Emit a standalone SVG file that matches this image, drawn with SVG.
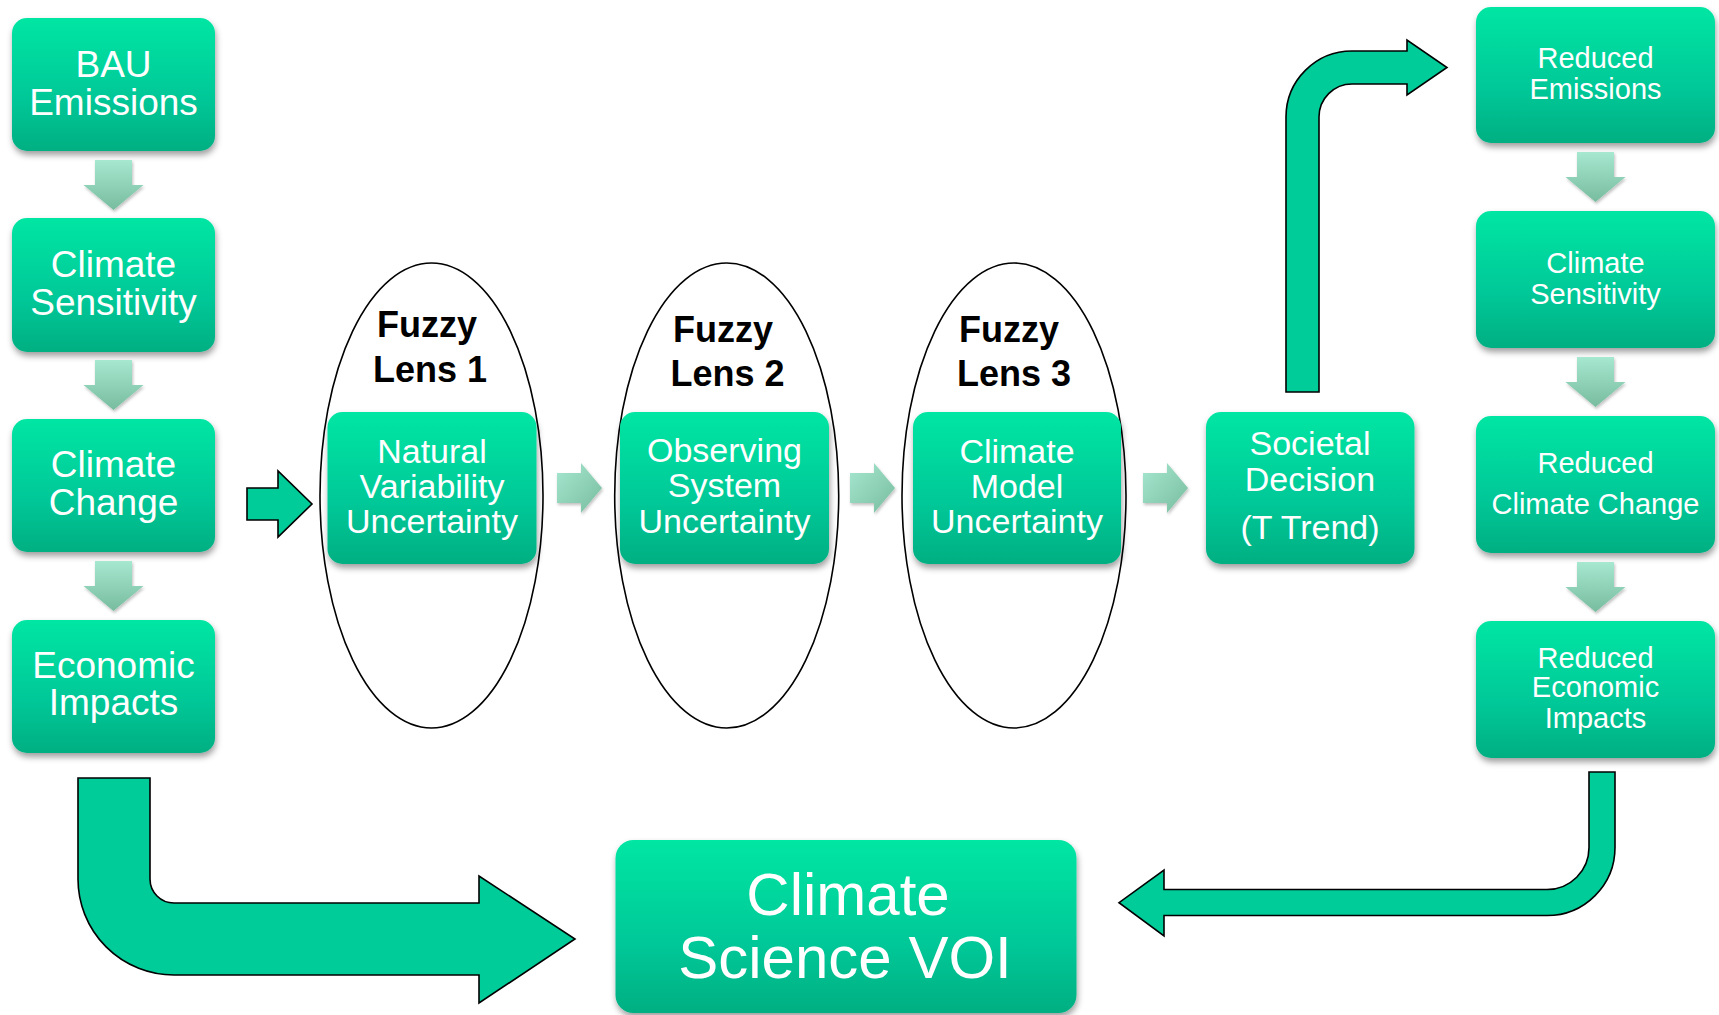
<svg xmlns="http://www.w3.org/2000/svg" xmlns:xlink="http://www.w3.org/1999/xlink" width="1719" height="1015" viewBox="0 0 1719 1015">
  <defs>
    <linearGradient id="boxFill" x1="0" y1="0" x2="0" y2="1">
      <stop offset="0" stop-color="#00E6A3"/>
      <stop offset="0.6" stop-color="#00C898"/>
      <stop offset="1" stop-color="#00AF82"/>
    </linearGradient>
    <linearGradient id="stepFill" x1="0" y1="0" x2="0" y2="1">
      <stop offset="0" stop-color="#A6E8D0"/>
      <stop offset="1" stop-color="#78BC9F"/>
    </linearGradient>
    <linearGradient id="stepFillH" x1="0" y1="0" x2="1" y2="1">
      <stop offset="0" stop-color="#A6E8D0"/>
      <stop offset="1" stop-color="#78BC9F"/>
    </linearGradient>
    <filter id="shadow" x="-10%" y="-10%" width="125%" height="130%">
      <feDropShadow dx="1" dy="4" stdDeviation="3" flood-color="#000" flood-opacity="0.38"/>
    </filter>
    <filter id="softShadow" x="-20%" y="-20%" width="150%" height="150%">
      <feDropShadow dx="1" dy="2" stdDeviation="1.5" flood-color="#000" flood-opacity="0.25"/>
    </filter>
    <!-- small step arrows: vertical (top-centred) and horizontal (left, mid-height) -->
    <path id="stepDown" d="M-18.5,0 H18.5 V25 H30 L0,50 L-30,25 H-18.5 Z"/>
    <path id="stepRight" d="M0,-15 H24 V-25 L45,0 L24,25 V15 H0 Z"/>
    <style>
      .box { fill: url(#boxFill); filter: url(#shadow); }
      .lbl { fill: #fff; font-family: "Liberation Sans", Arial, sans-serif; text-anchor: middle; }
      .l37 { font-size: 37px; }
      .l34 { font-size: 34px; }
      .l29 { font-size: 29px; }
      .l60 { font-size: 60px; }
      .lens { fill: none; stroke: #000; stroke-width: 1.6; }
      .lensTxt { fill: #000; font-family: "Liberation Sans", Arial, sans-serif; font-weight: bold; font-size: 36px; text-anchor: middle; }
      .step { fill: url(#stepFill); filter: url(#softShadow); }
      .stepH { fill: url(#stepFillH); filter: url(#softShadow); }
      .bent { fill: #00CC99; stroke: #000; stroke-width: 1.6; stroke-linejoin: miter; }
    </style>
  </defs>

  <rect width="1719" height="1015" fill="#fff"/>

  <!-- lens outlines -->
  <g id="lens1">
    <ellipse class="lens" cx="431.5" cy="495.5" rx="111.5" ry="232.5"/>
    <text class="lensTxt" x="427" y="337">Fuzzy</text>
    <text class="lensTxt" x="430" y="382">Lens 1</text>
  </g>
  <g id="lens2">
    <ellipse class="lens" cx="726.7" cy="495.5" rx="112" ry="232.5"/>
    <text class="lensTxt" x="723" y="342">Fuzzy</text>
    <text class="lensTxt" x="727.5" y="386">Lens 2</text>
  </g>
  <g id="lens3">
    <ellipse class="lens" cx="1014" cy="495.5" rx="112" ry="232.5"/>
    <text class="lensTxt" x="1009" y="342">Fuzzy</text>
    <text class="lensTxt" x="1014" y="386">Lens 3</text>
  </g>

  <!-- left column: business-as-usual chain -->
  <g id="bau-emissions">
    <rect class="box" x="12" y="18" width="203" height="133" rx="15"/>
    <text class="lbl l37" x="113.5" y="77">BAU</text>
    <text class="lbl l37" x="113.5" y="115">Emissions</text>
  </g>
  <g id="climate-sensitivity">
    <rect class="box" x="12" y="218" width="203" height="134" rx="15"/>
    <text class="lbl l37" x="113.5" y="277">Climate</text>
    <text class="lbl l37" x="113.5" y="315">Sensitivity</text>
  </g>
  <g id="climate-change">
    <rect class="box" x="12" y="419" width="203" height="133" rx="15"/>
    <text class="lbl l37" x="113.5" y="477">Climate</text>
    <text class="lbl l37" x="113.5" y="515">Change</text>
  </g>
  <g id="economic-impacts">
    <rect class="box" x="12" y="620" width="203" height="133" rx="15"/>
    <text class="lbl l37" x="113.5" y="678">Economic</text>
    <text class="lbl l37" x="113.5" y="715">Impacts</text>
  </g>

  <!-- uncertainty boxes inside the lenses -->
  <g id="natural-variability">
    <rect class="box" x="327.5" y="412" width="209" height="152" rx="15"/>
    <text class="lbl l34" x="432" y="463">Natural</text>
    <text class="lbl l34" x="432" y="498">Variability</text>
    <text class="lbl l34" x="432" y="533">Uncertainty</text>
  </g>
  <g id="observing-system">
    <rect class="box" x="620" y="412" width="209" height="152" rx="15"/>
    <text class="lbl l34" x="724.5" y="462">Observing</text>
    <text class="lbl l34" x="724.5" y="497">System</text>
    <text class="lbl l34" x="724.5" y="533">Uncertainty</text>
  </g>
  <g id="climate-model">
    <rect class="box" x="913" y="412" width="208" height="152" rx="15"/>
    <text class="lbl l34" x="1017" y="463">Climate</text>
    <text class="lbl l34" x="1017" y="498">Model</text>
    <text class="lbl l34" x="1017" y="533">Uncertainty</text>
  </g>
  <g id="societal-decision">
    <rect class="box" x="1206" y="412" width="208.5" height="152" rx="15"/>
    <text class="lbl l34" x="1310" y="455">Societal</text>
    <text class="lbl l34" x="1310" y="491">Decision</text>
    <text class="lbl l34" x="1310" y="539">(T Trend)</text>
  </g>

  <!-- right column: reduced-impact chain -->
  <g id="reduced-emissions">
    <rect class="box" x="1476" y="7" width="239" height="136" rx="15"/>
    <text class="lbl l29" x="1595.5" y="68">Reduced</text>
    <text class="lbl l29" x="1595.5" y="99">Emissions</text>
  </g>
  <g id="climate-sensitivity-2">
    <rect class="box" x="1476" y="211" width="239" height="137" rx="15"/>
    <text class="lbl l29" x="1595.5" y="273">Climate</text>
    <text class="lbl l29" x="1595.5" y="304">Sensitivity</text>
  </g>
  <g id="reduced-climate-change">
    <rect class="box" x="1476" y="416" width="239" height="137" rx="15"/>
    <text class="lbl l29" x="1595.5" y="473">Reduced</text>
    <text class="lbl l29" x="1595.5" y="514">Climate Change</text>
  </g>
  <g id="reduced-economic-impacts">
    <rect class="box" x="1476" y="621" width="239" height="137" rx="15"/>
    <text class="lbl l29" x="1595.5" y="668">Reduced</text>
    <text class="lbl l29" x="1595.5" y="697">Economic</text>
    <text class="lbl l29" x="1595.5" y="728">Impacts</text>
  </g>

  <!-- outcome -->
  <g id="climate-science-voi">
    <rect class="box" x="615.5" y="840" width="461" height="173" rx="18"/>
    <text class="lbl l60" x="848" y="915">Climate</text>
    <text class="lbl l60" x="845" y="978">Science VOI</text>
  </g>

  <!-- connectors -->
  <g id="connectors">
    <use xlink:href="#stepDown" class="step" x="113.5" y="160"/>
    <use xlink:href="#stepDown" class="step" x="113.5" y="360"/>
    <use xlink:href="#stepDown" class="step" x="113.5" y="561"/>

    <use xlink:href="#stepDown" class="step" x="1595.5" y="152"/>
    <use xlink:href="#stepDown" class="step" x="1595.5" y="357"/>
    <use xlink:href="#stepDown" class="step" x="1595.5" y="562"/>

    <use xlink:href="#stepRight" class="stepH" x="557" y="488"/>
    <use xlink:href="#stepRight" class="stepH" x="850" y="488"/>
    <use xlink:href="#stepRight" class="stepH" x="1143" y="488"/>

    <!-- into the first lens -->
    <path class="bent" d="M247,488 H278 V471 L312,504 L278,537 V520 H247 Z"/>

    <!-- decision up to reduced emissions -->
    <path class="bent" d="M1286,392 V117 A66,66 0 0 1 1352,51 H1407 V40 L1447,67.5 L1407,95 V84 H1352 A33,33 0 0 0 1319,117 V392 Z"/>

    <!-- BAU impacts down and across to VOI -->
    <path class="bent" d="M78,778 V879 A96,96 0 0 0 174,975 H479 V1003 L575,939 L479,876 V903 H174 A24,24 0 0 1 150,879 V778 Z"/>

    <!-- reduced impacts down and back to VOI -->
    <path class="bent" d="M1615,772 V847.5 A68,68 0 0 1 1547,915.5 H1164 V936 L1119,902.7 L1164,870 V889.5 H1547 A42,42 0 0 0 1589,847.5 V772 Z"/>
  </g>
</svg>
